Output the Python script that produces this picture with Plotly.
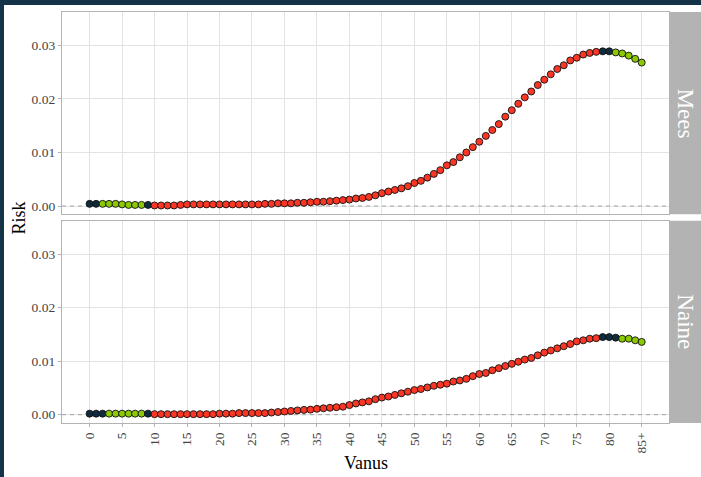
import plotly.graph_objects as go

ages = list(range(0, 86))
x_tickvals = [0, 5, 10, 15, 20, 25, 30, 35, 40, 45, 50, 55, 60, 65, 70, 75, 80, 85]
x_ticktext = ["0", "5", "10", "15", "20", "25", "30", "35", "40", "45", "50",
              "55", "60", "65", "70", "75", "80", "85+"]
y_tickvals = [0.00, 0.01, 0.02, 0.03]

panels = ["Mees", "Naine"]

mees_risk = [
    0.0004, 0.0004, 0.0004, 0.0004, 0.0004, 0.0003, 0.0002, 0.0002, 0.0002, 0.0002,
    0.0001, 0.0001, 0.0001, 0.0001, 0.0002, 0.0003, 0.0003, 0.0003, 0.0003, 0.0003,
    0.0003, 0.0003, 0.0003, 0.0003, 0.0003, 0.0003, 0.0003, 0.0004, 0.0004, 0.0005,
    0.0005, 0.0005, 0.0006, 0.0006, 0.0007, 0.0008, 0.0008, 0.0009, 0.0010, 0.0011,
    0.0012, 0.0014, 0.0015, 0.0017, 0.0020, 0.0024, 0.0027, 0.0030, 0.0033, 0.0037,
    0.0043, 0.0047, 0.0053, 0.0060, 0.0067, 0.0076, 0.0082, 0.0091, 0.0100, 0.0110,
    0.0120, 0.0131, 0.0142, 0.0153, 0.0167, 0.0179, 0.0191, 0.0203, 0.0214, 0.0226,
    0.0236, 0.0246, 0.0256, 0.0263, 0.0272, 0.0277, 0.0283, 0.0286, 0.0288, 0.0289,
    0.0289, 0.0287, 0.0285, 0.0281, 0.0275, 0.0268,
]

naine_risk = [
    0.0002, 0.0002, 0.0002, 0.0002, 0.0002, 0.0002, 0.0002, 0.0002, 0.0002, 0.0002,
    0.0001, 0.0001, 0.0001, 0.0001, 0.0001, 0.0001, 0.0001, 0.0001, 0.0001, 0.0001,
    0.0002, 0.0002, 0.0002, 0.0003, 0.0003, 0.0003, 0.0003, 0.0003, 0.0004, 0.0005,
    0.0006, 0.0007, 0.0008, 0.0009, 0.00095, 0.0011, 0.0012, 0.0013, 0.0014, 0.0015,
    0.0018, 0.0021, 0.0023, 0.0025, 0.0029, 0.0032, 0.0034, 0.0037, 0.0040, 0.0043,
    0.0046, 0.0048, 0.0051, 0.0054, 0.0056, 0.0058, 0.0062, 0.0064, 0.0067, 0.0072,
    0.0076, 0.0078, 0.0083, 0.0087, 0.0091, 0.0095, 0.0099, 0.0103, 0.0106, 0.0111,
    0.0116, 0.0120, 0.0124, 0.0128, 0.0132, 0.0137, 0.0139, 0.0142, 0.0143, 0.0145,
    0.0145, 0.0144, 0.0142, 0.0142, 0.0139, 0.0136,
]

# point category per age (D = dark, G = green, R = red)
mees_group = ["D"] * 2 + ["G"] * 7 + ["D"] * 1 + ["R"] * 69 + ["D"] * 2 + ["G"] * 5
naine_group = ["D"] * 3 + ["G"] * 6 + ["D"] * 1 + ["R"] * 69 + ["D"] * 3 + ["G"] * 4

reference_level = 0.0

group_colors = {"D": "#0F2C3F", "G": "#8CC900", "R": "#FB3624"}

SERIF = "Liberation Serif, Times New Roman, serif"
W, H = 701, 477
ML, MR, MT, MB = 62, 0, 12, 54
PW, PH = W - ML - MR, H - MT - MB


def px_x(px):
    return (px - ML) / PW


def px_y(py):
    return (H - MB - py) / PH


x_dom_end = px_x(669.3)
top_dom = [px_y(214.3), 1.0]
bot_dom = [0.0, px_y(220.7)]
xr = [-4.25, 89.25]
yr = [-0.00155, 0.03625]

fig = go.Figure()
for i, (name, vals, grp) in enumerate([("Mees", mees_risk, mees_group),
                                        ("Naine", naine_risk, naine_group)]):
    ax = "" if i == 0 else "2"
    # dashed zero reference line spanning the panel
    fig.add_trace(go.Scatter(
        x=xr, y=[reference_level, reference_level], mode="lines",
        xaxis="x" + ax, yaxis="y" + ax, showlegend=False, hoverinfo="skip",
        line=dict(color="#a3a3a3", width=1, dash="4px,4px"),
    ))
    fig.add_trace(go.Scatter(
        x=ages, y=vals, mode="markers", name=name, showlegend=False,
        xaxis="x" + ax, yaxis="y" + ax,
        marker=dict(size=7, color=[group_colors[g] for g in grp],
                    line=dict(color="#111111", width=0.9)),
        hoverinfo="x+y",
    ))

axis_common = dict(
    showline=True, mirror=True, linecolor="#b3b3b3", linewidth=1.2,
    showgrid=True, gridcolor="#e3e3e3", gridwidth=1, zeroline=False,
)

fig.update_layout(
    width=W, height=H,
    margin=dict(l=ML, r=MR, t=MT, b=MB, pad=0),
    paper_bgcolor="white", plot_bgcolor="white",
    xaxis=dict(domain=[0, x_dom_end], anchor="y", range=xr, tickvals=x_tickvals,
               showticklabels=False, ticks="", **axis_common),
    yaxis=dict(domain=top_dom, anchor="x", range=yr, tickvals=y_tickvals,
               tickformat=".2f", ticks="outside", ticklen=3, tickcolor="#b3b3b3",
               tickfont=dict(family=SERIF, size=13.5, color="#444444"), **axis_common),
    xaxis2=dict(domain=[0, x_dom_end], anchor="y2", range=xr, tickvals=x_tickvals,
                ticktext=x_ticktext, tickangle=-90, ticks="outside", ticklen=3,
                tickcolor="#b3b3b3",
                tickfont=dict(family=SERIF, size=13.5, color="#444444"), **axis_common),
    yaxis2=dict(domain=bot_dom, anchor="x2", range=yr, tickvals=y_tickvals,
                tickformat=".2f", ticks="outside", ticklen=3, tickcolor="#b3b3b3",
                tickfont=dict(family=SERIF, size=13.5, color="#444444"), **axis_common),
)

shapes = []
# facet strips
for dom in [top_dom, bot_dom]:
    shapes.append(dict(type="rect", xref="paper", yref="paper",
                       x0=px_x(669.8), x1=1.0, y0=dom[0], y1=dom[1],
                       fillcolor="#b3b3b3", line=dict(width=0), layer="above"))
# dark page border (left and top)
shapes.append(dict(type="rect", xref="paper", yref="paper",
                   x0=px_x(-2), x1=px_x(4), y0=px_y(H + 2), y1=px_y(-2),
                   fillcolor="#143349", line=dict(width=0), layer="above"))
shapes.append(dict(type="rect", xref="paper", yref="paper",
                   x0=px_x(-2), x1=px_x(W + 2), y0=px_y(5), y1=px_y(-2),
                   fillcolor="#143349", line=dict(width=0), layer="above"))
fig.update_layout(shapes=shapes)

annotations = []
for name, dom in zip(panels, [top_dom, bot_dom]):
    annotations.append(dict(text=name, xref="paper", yref="paper",
                            x=px_x(685.5), y=(dom[0] + dom[1]) / 2,
                            textangle=90, showarrow=False,
                            xanchor="center", yanchor="middle",
                            font=dict(family=SERIF, size=23, color="white")))
annotations.append(dict(text="Risk", xref="paper", yref="paper",
                        x=px_x(18.5), y=px_y(218), textangle=-90, showarrow=False,
                        xanchor="center", yanchor="middle",
                        font=dict(family=SERIF, size=18, color="black")))
annotations.append(dict(text="Vanus", xref="paper", yref="paper",
                        x=px_x(365.5), y=px_y(463), showarrow=False,
                        xanchor="center", yanchor="middle",
                        font=dict(family=SERIF, size=18, color="black")))
fig.update_layout(annotations=annotations)

fig.write_html("out.html")
